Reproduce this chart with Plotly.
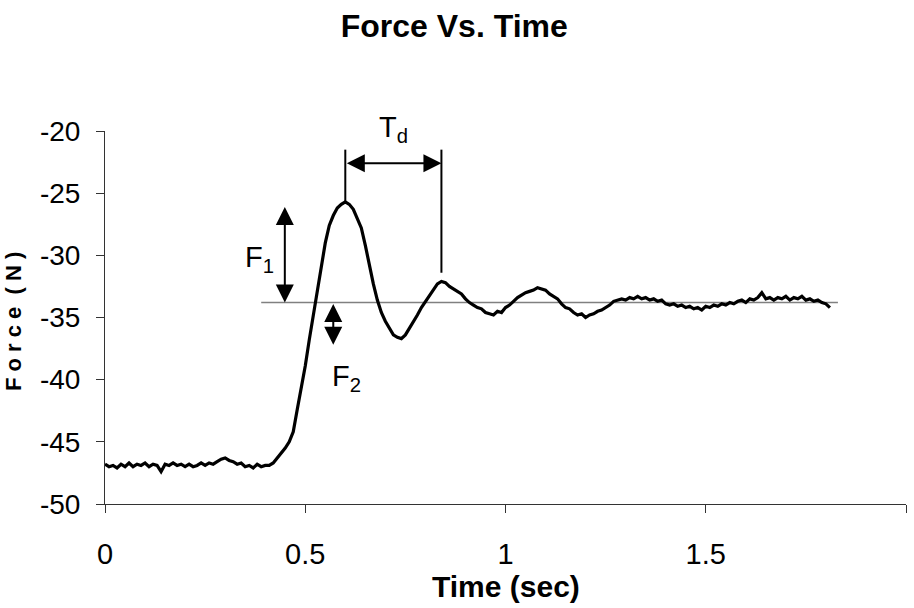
import plotly.graph_objects as go

# ---- data ----
time_s = [round(i * 0.01, 2) for i in range(182)]
force_n = [
    -46.8, -47.0, -46.9, -47.1, -46.8, -47.0, -46.7, -47.0, -46.8, -46.9,
    -46.7, -47.0, -46.8, -46.9, -47.4, -46.8, -46.9, -46.7, -46.9, -46.8,
    -47.0, -46.8, -47.0, -46.9, -46.7, -46.9, -46.7, -46.8, -46.6, -46.4,
    -46.3, -46.5, -46.6, -46.8, -46.7, -47.0, -46.9, -47.1, -46.8, -47.0,
    -46.9, -46.9, -46.7, -46.3, -45.9, -45.5, -45.0, -44.2, -42.4, -40.7,
    -38.9, -36.8, -34.9, -33.1, -31.0, -29.0, -27.6, -26.8, -26.2, -25.9,
    -25.7, -25.9, -26.3, -27.0, -27.8, -29.2, -30.9, -32.3, -33.6, -34.6,
    -35.3, -35.9, -36.4, -36.6, -36.7, -36.4, -35.9, -35.4, -34.8, -34.2,
    -33.7, -33.2, -32.7, -32.3, -32.1, -32.2, -32.5, -32.7, -32.9, -33.1,
    -33.5, -33.8, -34.0, -34.2, -34.3, -34.6, -34.7, -34.8, -34.5, -34.6,
    -34.2, -34.0, -33.7, -33.4, -33.2, -33.0, -32.9, -32.8, -32.6, -32.7,
    -32.8, -33.1, -33.3, -33.5, -33.9, -34.2, -34.3, -34.6, -34.8, -34.7,
    -35.0, -34.8, -34.7, -34.5, -34.4, -34.2, -34.0, -33.7, -33.6, -33.5,
    -33.6, -33.4, -33.5, -33.3, -33.5, -33.4, -33.6, -33.5, -33.7, -33.6,
    -33.9, -34.0, -33.9, -34.1, -34.0, -34.2, -34.1, -34.3, -34.2, -34.4,
    -34.1, -34.2, -34.0, -34.1, -33.9, -34.0, -33.8, -33.9, -33.7, -33.6,
    -33.8, -33.5, -33.6, -33.4, -33.0, -33.5, -33.4, -33.6, -33.4, -33.5,
    -33.3, -33.6, -33.4, -33.5, -33.3, -33.6, -33.5, -33.7, -33.6, -33.8,
    -33.9, -34.2,
]
steady_x = [0.39, 1.83]
steady_y = [-33.8, -33.8]

x_ticks = [0, 0.5, 1, 1.5, 2]
x_tick_labels = ["0", "0.5", "1", "1.5", "2"]
y_ticks = [-50, -45, -40, -35, -30, -25, -20]
y_tick_labels = ["-50", "-45", "-40", "-35", "-30", "-25", "-20"]

# annotation reference values
peak1_t, peak1_f = 0.60, -25.7
peak2_t, peak2_f = 0.84, -32.1
steady_f = -33.8

FONT = "Liberation Sans, Arial, sans-serif"
NB = "\u00a0"
ytitle = NB.join(list("Force")) + NB + NB + NB.join(list("(N)"))

fig = go.Figure()
fig.add_trace(go.Scatter(x=steady_x, y=steady_y, mode="lines",
                         line=dict(color="#808080", width=1.5), hoverinfo="skip"))
fig.add_trace(go.Scatter(x=time_s, y=force_n, mode="lines",
                         line=dict(color="black", width=3.2)))

# Td vertical lines
fig.add_shape(type="line", x0=peak1_t, x1=peak1_t, y0=peak1_f, y1=-21.5,
              line=dict(color="black", width=2))
fig.add_shape(type="line", x0=peak2_t, x1=peak2_t, y0=peak2_f + 0.7, y1=-21.5,
              line=dict(color="black", width=2))

arrow_common = dict(xref="x", yref="y", axref="x", ayref="y", text="",
                    showarrow=True, arrowhead=2, arrowside="end+start",
                    arrowsize=1.8, arrowwidth=2, arrowcolor="black",
                    standoff=0, startstandoff=0)
annotations = [
    dict(x=peak2_t, y=-22.6, ax=peak1_t, ay=-22.6, **arrow_common),
    dict(x=0.449, y=steady_f, ax=0.449, ay=-26.0, **arrow_common),
    dict(x=0.570, y=-37.2, ax=0.570, ay=steady_f, **arrow_common),
    dict(x=0.72, y=(504 - 129) / 373.3, xref="x", yref="paper", text="T<sub>d</sub>",
         showarrow=False, yanchor="middle",
         font=dict(family=FONT, size=29, color="black")),
    dict(x=0.385, y=-30.3, xref="x", yref="y", text="F<sub>1</sub>", showarrow=False,
         font=dict(family=FONT, size=29, color="black")),
    dict(x=0.603, y=-39.9, xref="x", yref="y", text="F<sub>2</sub>", showarrow=False,
         font=dict(family=FONT, size=29, color="black")),
    # axis titles
    dict(x=0.5, y=-0.222, xref="paper", yref="paper", text="<b>Time (sec)</b>",
         showarrow=False, yanchor="middle",
         font=dict(family=FONT, size=30, color="black")),
    dict(x=-0.115, y=0.49, xref="paper", yref="paper",
         text="<b>" + ytitle + "</b>",
         showarrow=False, textangle=-90, xanchor="center", yanchor="middle",
         font=dict(family=FONT, size=22, color="black")),
]

fig.update_layout(
    width=914, height=608, autosize=False,
    margin=dict(l=105, r=8, t=131, b=104),
    paper_bgcolor="white", plot_bgcolor="white",
    showlegend=False,
    title=dict(text="<b>Force Vs. Time</b>", x=0.497, xanchor="center",
               y=1 - 26 / 608, yanchor="middle", yref="container",
               font=dict(family=FONT, size=32, color="black")),
    annotations=annotations,
    xaxis=dict(range=[0, 2], tickvals=x_ticks, ticktext=x_tick_labels,
               showgrid=False, zeroline=False, showline=True, linecolor="#333",
               linewidth=1, ticks="outside", ticklen=8, tickcolor="#333",
               ticklabelstandoff=16,
               tickfont=dict(family=FONT, size=29, color="black")),
    yaxis=dict(range=[-50, -20], tickvals=y_ticks, ticktext=y_tick_labels,
               showgrid=False, zeroline=False, showline=True, linecolor="#333",
               linewidth=1, ticks="outside", ticklen=8, tickcolor="#333",
               ticklabelstandoff=10,
               tickfont=dict(family=FONT, size=28, color="black")),
)

fig.write_html("out.html")
